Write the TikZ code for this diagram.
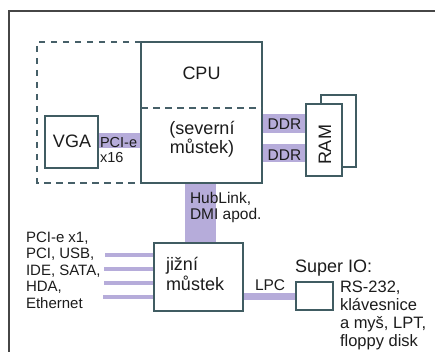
\documentclass[tikz,border=0pt]{standalone}
\usepackage{fontspec}
\setmainfont{Liberation Sans}
\usetikzlibrary{backgrounds}
\definecolor{bandc}{RGB}{182,172,218}
\definecolor{edgec}{RGB}{64,92,98}
\definecolor{dashc}{RGB}{70,96,104}
\definecolor{inkc}{RGB}{28,28,28}
\definecolor{framec}{RGB}{70,70,70}
\newcommand\FsBig{\fontsize{18}{14}\selectfont}
\newcommand\FsSb{\fontsize{18}{16}\selectfont}
\newcommand\FsMid{\fontsize{15.5}{16}\selectfont}
\newcommand\FsList{\fontsize{15}{16.5}\selectfont}
\newcommand\FsRight{\fontsize{16.5}{17.7}\selectfont}
\newcommand\FsPci{\fontsize{14.5}{15}\selectfont}
\begin{document}
\begin{tikzpicture}[x=1pt,y=-1pt,
  box/.style={draw=edgec, line width=1.8pt, fill=white, rectangle, inner sep=0pt, outer sep=0pt},
  bandline/.style={draw=bandc},
  dashline/.style={draw=dashc, line width=2.2pt, dash pattern=on 6.5pt off 5.5pt},
  lbl/.style={text=inkc, inner sep=0pt, outer sep=0pt},
  framel/.style={draw=framec, line width=1.2pt}
]
\useasboundingbox (0,0) rectangle (435,352);
% outer frame
\coordinate (fbl) at (9,352);
\coordinate (ftl) at (9,11);
\coordinate (ftr) at (435,11);
\draw[framel] (fbl) -- (ftl) -- (ftr);

% boxes
\node[box, minimum width=121pt, minimum height=141pt] (cpu) at (201.5,112.5) {};
\node[box, minimum width=53pt, minimum height=52pt] (vga) at (71.5,142) {};
\node[box, minimum width=35pt, minimum height=72pt] (ramb) at (338.5,131) {};
\node[box, minimum width=36pt, minimum height=72pt] (ram) at (324,140) {};
\node[box, minimum width=89pt, minimum height=68pt] (south) at (198.5,277) {};
\node[box, minimum width=37pt, minimum height=28pt] (sio) at (314.5,296) {};

% dashed outline and divider
\coordinate (dtl) at (37,42);
\coordinate (dbl) at (37,183);
\coordinate (sep) at (0,108);
\draw[dashline] (cpu.north west) -- (dtl) -- (dbl) -- (cpu.south west);
\draw[dashline] (cpu.west |- sep) -- (cpu.east |- sep);

% bands
\coordinate (pcie) at (0,140.5);
\coordinate (d1) at (0,123.5);
\coordinate (d2) at (0,153);
\coordinate (hl) at (200.5,0);
\coordinate (lpc) at (0,296.5);
\coordinate (l1) at (105,255);
\coordinate (l2) at (104,269);
\coordinate (l3) at (104,283);
\coordinate (l4) at (103,297);
\begin{scope}[on background layer]
\draw[bandline, line width=15pt] (vga.east |- pcie) -- (cpu.west |- pcie);
\draw[bandline, line width=19pt] (cpu.east |- d1) -- (ram.west |- d1);
\draw[bandline, line width=18pt] (cpu.east |- d2) -- (ram.west |- d2);
\draw[bandline, line width=31pt] (cpu.south -| hl) -- (south.north -| hl);
\draw[bandline, line width=7pt] (south.east |- lpc) -- (sio.west |- lpc);
\foreach \p in {l1,l2,l3,l4}
  \draw[bandline, line width=4pt] (\p) -- (\p -| south.west);
\end{scope}

% labels (multi-line nodes: base = last line)
\node[lbl, font=\FsBig] (tcpu) at (201.5,73.5) {CPU};
\node[lbl, font=\FsBig, align=center, anchor=base] (tnb) at (202,154) {(severní\\můstek)};
\node[lbl, font=\FsBig, anchor=base] (tvga) at (72,148) {VGA};
\node[lbl, font=\FsPci, align=left, anchor=base west] (tpci) at (100,163) {PCI-e\\x16};
\node[lbl, font=\FsMid, anchor=base] (tddr1) at (284.5,130) {DDR};
\node[lbl, font=\FsMid, anchor=base] (tddr2) at (284.5,161) {DDR};
\node[lbl, font=\FsBig, rotate=90] (tram) at (325,145) {RAM};
\node[lbl, font=\FsMid, align=left, anchor=base west] (thl) at (190,219) {HubLink,\\DMI apod.};
\node[lbl, font=\FsSb, align=left, anchor=base west] (tsb) at (166,290) {jižní\\můstek};
\node[lbl, font=\FsList, align=left, anchor=base west] (tleft) at (26,308) {PCI-e x1,\\PCI, USB,\\IDE, SATA,\\HDA,\\Ethernet};
\node[lbl, font=\FsMid, anchor=base west] (tlpc) at (255,290) {LPC};
\node[lbl, font=\FsBig, anchor=base west] (tsio) at (295,272) {Super IO:};
\node[lbl, font=\FsRight, align=left, anchor=base west] (tright) at (340,346) {RS-232,\\klávesnice\\a myš, LPT,\\floppy disk};
\end{tikzpicture}
\end{document}
